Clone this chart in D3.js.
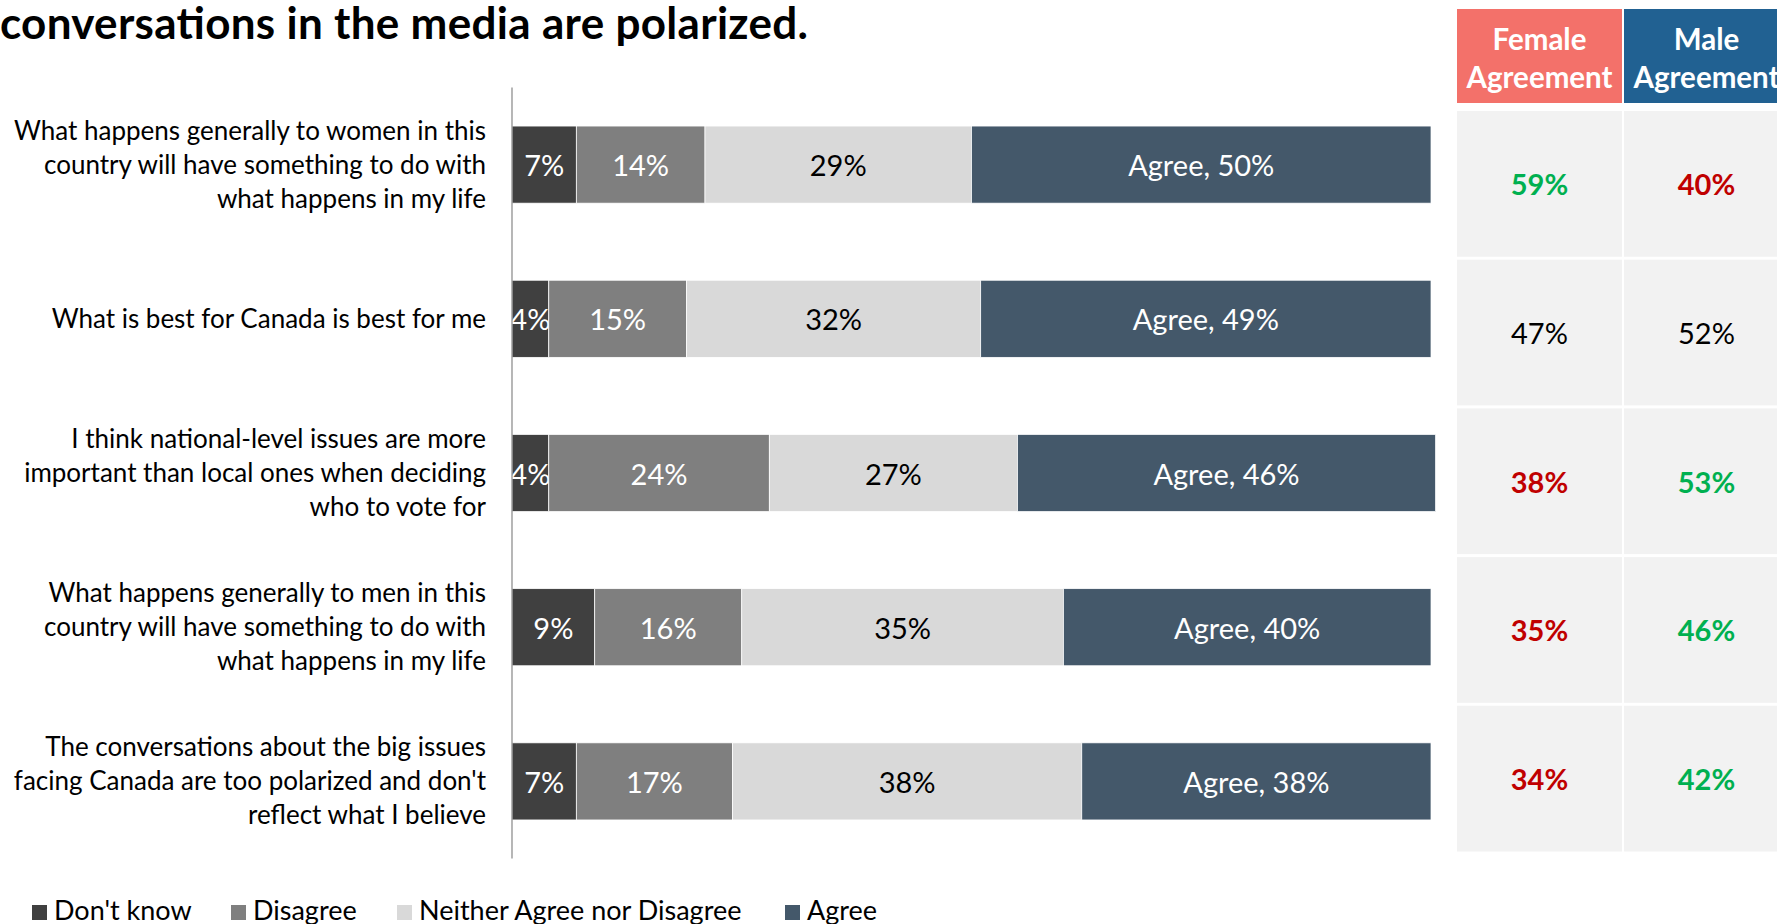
<!DOCTYPE html>
<html>

<head>
  <title>Agreement by statement</title>
  <meta charset="utf-8" />
  <script src="https://d3js.org/d3.v7.min.js"></script>
  <style>
    body { margin: 0; background: #fff; }
    svg text { font-family: Lato, "Open Sans", sans-serif; }
  </style>
</head>

<body>
  <svg id="chart" width="1777" height="924"></svg>

  <script>
    // data
    const questions = [
      "What happens generally to women in this\ncountry will have something to do with\nwhat happens in my life",
      "What is best for Canada is best for me",
      "I think national-level issues are more\nimportant than local ones when deciding\nwho to vote for",
      "What happens generally to men in this\ncountry will have something to do with\nwhat happens in my life",
      "The conversations about the big issues\nfacing Canada are too polarized and don't\nreflect what I believe"
    ];
    const seriesNames = ["Don't know", "Disagree", "Neither Agree nor Disagree", "Agree"];
    const dontKnow = [7, 4, 4, 9, 7];
    const disagree = [14, 15, 24, 16, 17];
    const neither = [29, 32, 27, 35, 38];
    const agree = [50, 49, 45.5, 40, 38];

    const femaleAgree = [59, 47, 38, 35, 34];
    const maleAgree = [40, 52, 53, 46, 42];
    const significant = [true, false, true, true, true];

    const svg = d3.select("#chart");

    // title (cut at the left edge in the original)
    svg.append("text")
      .attr("x", 0).attr("y", 39)
      .attr("font-size", 44).attr("font-weight", 700)
      .attr("textLength", 808).attr("lengthAdjust", "spacing")
      .attr("fill", "#000")
      .text("conversations in the media are polarized.");

    const rows = questions.map((q, i) => ({
      q: q,
      "Don't know": dontKnow[i],
      "Disagree": disagree[i],
      "Neither Agree nor Disagree": neither[i],
      "Agree": agree[i]
    }));

    const x = d3.scaleLinear().domain([0, 100]).range([512, 1431]);
    const y = d3.scaleBand().domain(questions).range([87.5, 858.5])
      .paddingInner(0.5).paddingOuter(0.25);
    const color = d3.scaleOrdinal().domain(seriesNames)
      .range(["#404040", "#7f7f7f", "#d9d9d9", "#44586a"]);
    const labelColor = d3.scaleOrdinal().domain(seriesNames)
      .range(["#fff", "#fff", "#000", "#fff"]);

    const stacked = d3.stack().keys(seriesNames)(rows);

    const groups = svg.append("g").selectAll("g.series")
      .data(stacked)
      .join("g")
      .attr("class", "series")
      .attr("fill", d => color(d.key));

    groups.selectAll("rect")
      .data(d => d)
      .join("rect")
      .attr("x", d => x(d[0]))
      .attr("y", d => y(d.data.q))
      .attr("width", d => x(d[1]) - x(d[0]))
      .attr("height", y.bandwidth())
      .attr("stroke", "#fff").attr("stroke-width", 0.75);

    groups.selectAll("text")
      .data(d => d.map(s => ({ key: d.key, s: s })))
      .join("text")
      .attr("x", d => (x(d.s[0]) + x(d.s[1])) / 2)
      .attr("y", d => y(d.s.data.q) + y.bandwidth() / 2)
      .attr("text-anchor", "middle")
      .attr("dominant-baseline", "central")
      .attr("font-size", 29)
      .attr("fill", d => labelColor(d.key))
      .text(d => (d.key === "Agree" ? "Agree, " : "") + Math.round(d.s[1] - d.s[0]) + "%");

    // vertical axis line
    svg.append("line")
      .attr("x1", x(0)).attr("x2", x(0))
      .attr("y1", y.range()[0]).attr("y2", y.range()[1])
      .attr("stroke", "#868686").attr("stroke-width", 1.2);

    // category labels, right aligned
    const catLabels = svg.append("g").selectAll("text")
      .data(questions)
      .join("text")
      .attr("text-anchor", "end")
      .attr("font-size", 26)
      .attr("fill", "#000");

    catLabels.each(function (q) {
      const lines = q.split("\n");
      const cy = y(q) + y.bandwidth() / 2;
      const lh = 34;
      d3.select(this).selectAll("tspan")
        .data(lines)
        .join("tspan")
        .attr("x", 486)
        .attr("y", (d, i) => cy - 1 + (i - (lines.length - 1) / 2) * lh)
        .attr("dominant-baseline", "central")
        .text(d => d);
    });

    // agreement table on the right
    const cols = [
      { name: ["Female", "Agreement"], vals: femaleAgree, head: "#f3716a" },
      { name: ["Male", "Agreement"], vals: maleAgree, head: "#216192" }
    ];
    const colX = d3.scaleBand().domain([0, 1]).range([1457, 1789]).paddingInner(0.012);
    const rowY = d3.scaleBand().domain(d3.range(questions.length)).range([111, 851.5]).paddingInner(0.02);

    const table = svg.append("g");
    cols.forEach((c, ci) => {
      const cx = colX(ci) + colX.bandwidth() / 2;
      table.append("rect")
        .attr("x", colX(ci)).attr("y", 9)
        .attr("width", colX.bandwidth()).attr("height", 94)
        .attr("fill", c.head);
      table.append("text")
        .attr("text-anchor", "middle")
        .attr("font-size", 29.5).attr("font-weight", 700)
        .attr("fill", "#fff")
        .selectAll("tspan")
        .data(c.name)
        .join("tspan")
        .attr("x", cx)
        .attr("y", (d, i) => 50 + i * 38)
        .text(d => d);

      c.vals.forEach((v, ri) => {
        const other = cols[1 - ci].vals[ri];
        let fill = "#000", weight = 400;
        if (significant[ri]) {
          fill = v > other ? "#00b050" : "#c00000";
          weight = 700;
        }
        table.append("rect")
          .attr("x", colX(ci)).attr("y", rowY(ri))
          .attr("width", colX.bandwidth()).attr("height", rowY.bandwidth())
          .attr("fill", "#f2f2f2");
        table.append("text")
          .attr("x", cx).attr("y", rowY(ri) + rowY.bandwidth() / 2)
          .attr("text-anchor", "middle")
          .attr("dominant-baseline", "central")
          .attr("font-size", 29).attr("font-weight", weight)
          .attr("fill", fill)
          .text(v + "%");
      });
    });

    // legend
    const legendX = [32, 231, 397, 785];
    const legend = svg.append("g").selectAll("g")
      .data(seriesNames)
      .join("g")
      .attr("transform", (d, i) => "translate(" + legendX[i] + ",905)");
    legend.append("rect")
      .attr("width", 15).attr("height", 15)
      .attr("fill", d => color(d));
    legend.append("text")
      .attr("x", 22).attr("y", 15)
      .attr("font-size", 27)
      .attr("fill", "#000")
      .text(d => d);
  </script>
</body>

</html>
